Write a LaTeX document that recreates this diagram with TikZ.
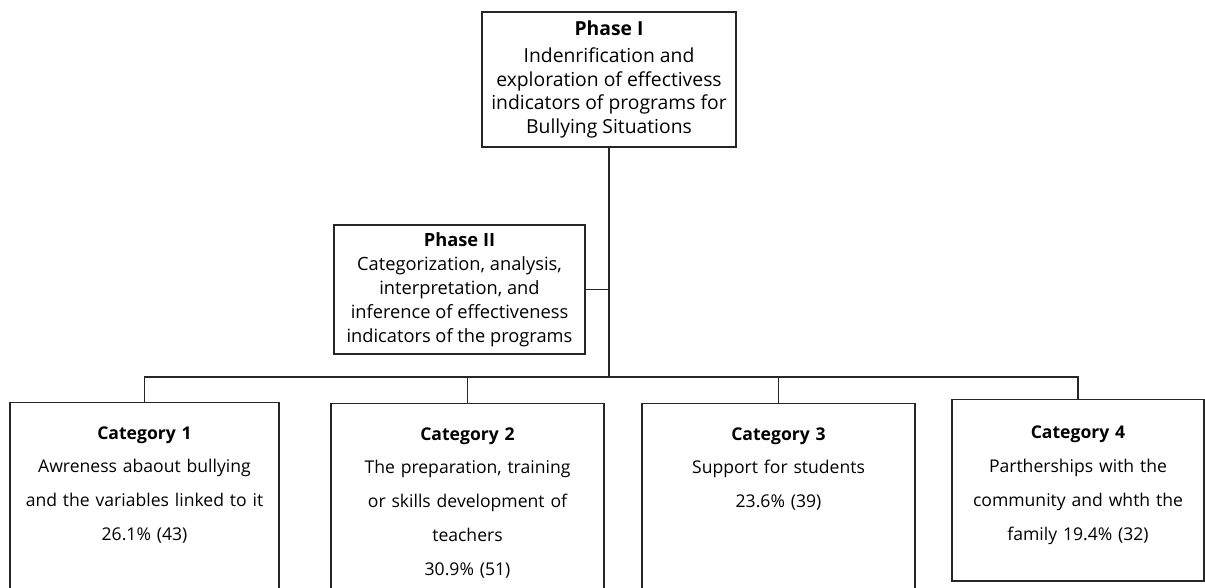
\documentclass[tikz,border=0pt]{standalone}
\usepackage{fontspec}
\setmainfont{Open Sans}
\usetikzlibrary{positioning}
\tikzset{phasebox/.style={rectangle, draw=black!85, line width=0.7pt, align=center, inner sep=0pt},
catbox/.style={rectangle, draw=black!85, line width=0.7pt, anchor=north, align=center, inner xsep=0pt, inner ysep=13.5pt, font=\fontsize{10}{19.3}\selectfont},
link/.style={draw=black!85, line width=0.7pt}}

\begin{document}
\begin{tikzpicture}[x=0.02cm, y=-0.02cm]
\useasboundingbox (0,0) rectangle (1205,588);
\clip (0,0) rectangle (1205,588);

\node(phase1) at (609, 79.5) [phasebox, font=\fontsize{11}{13.4}\selectfont, minimum width=5.08cm, minimum height=2.7cm] {\textbf{Phase I}\\[2pt]Indenrification and\\exploration of effectivess\\indicators of programs for\\Bullying Situations};
\node(phase2) at (459.5, 289.5) [phasebox, font=\fontsize{10.4}{13.6}\selectfont, minimum width=5.02cm, minimum height=2.58cm] {\textbf{Phase II}\\Categorization, analysis,\\interpretation, and\\inference of effectiveness\\indicators of the programs};

\node(cat1) at (144.5, 402) [catbox, text width=5.38cm, text depth=130pt] {\textbf{Category 1}\\Awreness abaout bullying\\and the variables linked to it\\26.1\% (43)};
\node(cat2) at (467.5, 403) [catbox, text width=5.46cm, text depth=130pt] {\textbf{Category 2}\\The preparation, training\\or skills development of\\teachers\\30.9\% (51)};
\node(cat3) at (778.5, 403) [catbox, text width=5.46cm, text depth=130pt] {\textbf{Category 3}\\Support for students\\23.6\% (39)};
\node(cat4) at (1078, 399) [catbox, inner ysep=15pt, text width=5.04cm, text depth=66pt] {\textbf{Category 4}\\Partherships with the\\community and whth the\\family 19.4\% (32)};

\coordinate (bus) at (609, 377);
\draw[link] (phase1) -- (bus);
\draw[link] (phase2.east) -- (phase2.east -| bus);
\draw[link] (cat1.north) |- (bus) -| (cat4.north);
\draw[link] (cat2.north) -- (cat2.north |- bus);
\draw[link] (cat3.north) -- (cat3.north |- bus);

\end{tikzpicture}
\end{document}
